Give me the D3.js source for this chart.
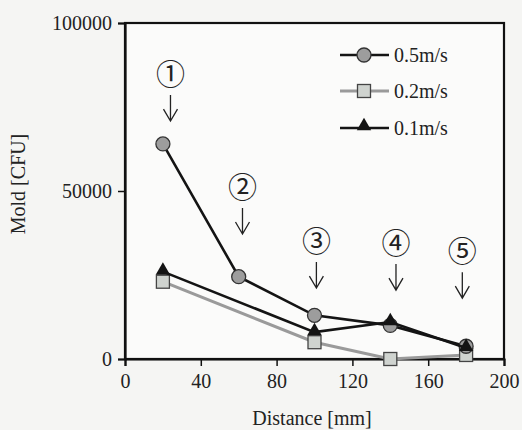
<!doctype html>
<html>
<head>
<meta charset="utf-8">
<style>
  body { margin: 0; background: #f5f5f3; }
  svg { display: block; font-family: "Liberation Serif", "Times New Roman", serif; }
</style>
<script src="https://d3js.org/d3.v7.min.js"></script>
</head>
<body>
<svg width="522" height="430"></svg>
<script>
// data
var dist05 = [20, 60, 100, 140, 180],
    mold05 = [64000, 24500, 13000, 10000, 3800];
var dist02 = [20, 100, 140, 180],
    mold02 = [23000, 5000, 0, 1200];
var dist01 = [20, 100, 140, 180],
    mold01 = [26000, 8000, 11000, 3300];

var xTicks = [0, 40, 80, 120, 160, 200],
    yTicks = [0, 50000, 100000];

var seriesNames = ["0.5m/s", "0.2m/s", "0.1m/s"];

// numbered arrows above the sampling positions
var markLabels = ["\u2460", "\u2461", "\u2462", "\u2463", "\u2464"],
    markX = [24, 62, 101, 143, 178],
    markY = [84500, 50900, 34800, 34200, 31800];

var svg = d3.select("svg");

var x = d3.scaleLinear().domain([0, 200]).range([125, 504]),
    y = d3.scaleLinear().domain([0, 100000]).range([359, 23]);

// frame
svg.append("rect")
   .attr("x", x(0)).attr("y", y(100000))
   .attr("width", x(200) - x(0)).attr("height", y(0) - y(100000))
   .attr("fill", "#fbfbfa").attr("stroke", "#111").attr("stroke-width", 2.2);

var xAxis = svg.append("g")
   .attr("transform", "translate(0," + y(0) + ")")
   .call(d3.axisBottom(x).tickValues(xTicks).tickSize(7).tickPadding(8));
var yAxis = svg.append("g")
   .attr("transform", "translate(" + x(0) + ",0)")
   .call(d3.axisLeft(y).tickValues(yTicks).tickSize(7).tickPadding(6).tickFormat(d3.format("d")));

[xAxis, yAxis].forEach(function(a) {
    a.select(".domain").attr("stroke", "#111").attr("stroke-width", 2.2);
    a.selectAll(".tick line").attr("stroke", "#111").attr("stroke-width", 1.5);
    a.selectAll("text").attr("font-size", "20px").attr("fill", "#222")
     .style("font-family", "'Liberation Serif', serif");
});

svg.append("text")
   .attr("x", 312).attr("y", 425)
   .attr("text-anchor", "middle").attr("font-size", "20px").attr("fill", "#222")
   .text("Distance [mm]");

svg.append("text")
   .attr("transform", "translate(25,184) rotate(-90)")
   .attr("text-anchor", "middle").attr("font-size", "20px").attr("fill", "#222")
   .text("Mold [CFU]");

// annotations
markX.forEach(function(m, i) {
    var cx = x(m), cy = y(markY[i]);
    svg.append("text")
       .attr("x", cx).attr("y", cy + 10)
       .attr("text-anchor", "middle")
       .attr("font-size", "29px")
       .style("font-family", "'Noto Sans CJK JP', 'DejaVu Sans', sans-serif")
       .attr("fill", "#222")
       .text(markLabels[i]);
    var top = cy + 20, bot = cy + 46;
    svg.append("path")
       .attr("d", "M" + cx + "," + top + "V" + bot + "M" + (cx - 7) + "," + (bot - 12) + "L" + cx + "," + bot + "L" + (cx + 7) + "," + (bot - 12))
       .attr("fill", "none").attr("stroke", "#222").attr("stroke-width", 1.3);
});

function pts(xs, ys) {
    return xs.map(function(d, i) { return [d, ys[i]]; });
}

var line = d3.line()
    .x(function(d) { return x(d[0]); })
    .y(function(d) { return y(d[1]); });

var tri = d3.symbol().type(d3.symbolTriangle).size(90);

// 0.2 m/s (grey, squares)
var p02 = pts(dist02, mold02);
svg.append("path").attr("d", line(p02))
   .attr("fill", "none").attr("stroke", "#9a9a9a").attr("stroke-width", 3);
svg.selectAll(".sq").data(p02).enter().append("rect")
   .attr("x", function(d) { return x(d[0]) - 6.5; })
   .attr("y", function(d) { return y(d[1]) - 6.5; })
   .attr("width", 13).attr("height", 13)
   .attr("fill", "#cfd3cf").attr("stroke", "#444").attr("stroke-width", 1.3);

// 0.5 m/s (black line, grey circles)
var p05 = pts(dist05, mold05);
svg.append("path").attr("d", line(p05))
   .attr("fill", "none").attr("stroke", "#141414").attr("stroke-width", 2.6);
svg.selectAll(".ci").data(p05).enter().append("circle")
   .attr("cx", function(d) { return x(d[0]); })
   .attr("cy", function(d) { return y(d[1]); })
   .attr("r", 7)
   .attr("fill", "#9d9d9d").attr("stroke", "#333").attr("stroke-width", 1.3);

// 0.1 m/s (black line, triangles)
var p01 = pts(dist01, mold01);
svg.append("path").attr("d", line(p01))
   .attr("fill", "none").attr("stroke", "#141414").attr("stroke-width", 2.6);
svg.selectAll(".tr").data(p01).enter().append("path")
   .attr("d", tri)
   .attr("transform", function(d) { return "translate(" + x(d[0]) + "," + (y(d[1]) - 1) + ")"; })
   .attr("fill", "#141414");

// legend
var legY = [55, 91, 128];
var lg = svg.append("g");
seriesNames.forEach(function(name, i) {
    var ly = legY[i];
    lg.append("line")
      .attr("x1", 340).attr("x2", 389).attr("y1", ly).attr("y2", ly)
      .attr("stroke", i == 1 ? "#9a9a9a" : "#141414")
      .attr("stroke-width", i == 1 ? 3 : 2.6);
    if (i == 0) {
        lg.append("circle").attr("cx", 364).attr("cy", ly).attr("r", 7)
          .attr("fill", "#9d9d9d").attr("stroke", "#333").attr("stroke-width", 1.3);
    } else if (i == 1) {
        lg.append("rect").attr("x", 357.5).attr("y", ly - 6.5).attr("width", 13).attr("height", 13)
          .attr("fill", "#cfd3cf").attr("stroke", "#444").attr("stroke-width", 1.3);
    } else {
        lg.append("path").attr("d", tri)
          .attr("transform", "translate(364," + (ly - 2) + ")")
          .attr("fill", "#141414");
    }
    lg.append("text")
      .attr("x", 394).attr("y", ly + 7)
      .attr("font-size", "20px").attr("fill", "#222")
      .text(name);
});
</script>
</body>
</html>
